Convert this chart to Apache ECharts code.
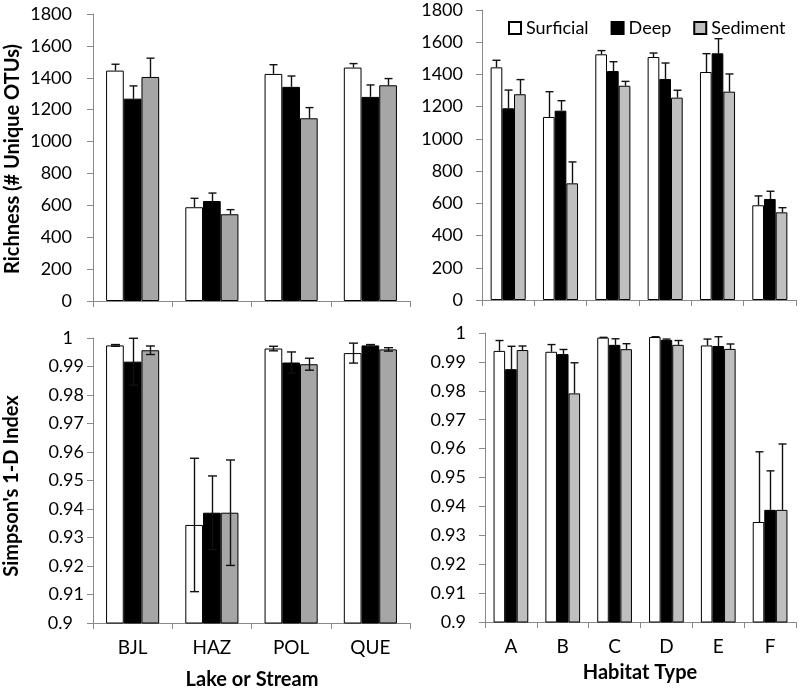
<!DOCTYPE html>
<html><head><meta charset="utf-8">
<script src="https://cdn.jsdelivr.net/npm/echarts@6/dist/echarts.min.js"></script>
<style>html,body{margin:0;padding:0;background:#fff}#c{width:800px;height:690px}</style>
</head><body><div id="c"></div>
<script>
const lakes = ['BJL', 'HAZ', 'POL', 'QUE'];
const habitats = ['A', 'B', 'C', 'D', 'E', 'F'];
const groupNames = ['Surficial', 'Deep', 'Sediment'];

// Richness by lake
const richLakeSurf = [1445, 588, 1424, 1464];
const richLakeSurfErr = [40, 56, 58, 25];
const richLakeDeep = [1269, 627, 1343, 1280];
const richLakeDeepErr = [80, 50, 68, 75];
const richLakeSed = [1405, 544, 1146, 1353];
const richLakeSedErr = [118, 29, 67, 42];

// Richness by habitat
const richHabSurf = [1444, 1136, 1525, 1508, 1415, 588];
const richHabSurfErr = [44, 157, 23, 25, 114, 58];
const richHabDeep = [1190, 1175, 1421, 1372, 1531, 627];
const richHabDeepErr = [113, 62, 58, 99, 91, 48];
const richHabSed = [1277, 724, 1330, 1256, 1293, 544];
const richHabSedErr = [91, 133, 27, 46, 110, 29];

// Simpson by lake (symmetric error)
const simLakeSurf = [0.9974, 0.9344, 0.9963, 0.9947];
const simLakeSurfErr = [0.0003, 0.0234, 0.0008, 0.0035];
const simLakeDeep = [0.9917, 0.9387, 0.9914, 0.9974];
const simLakeDeepErr = [0.0082, 0.0129, 0.0037, 0.0003];
const simLakeSed = [0.9957, 0.9387, 0.9908, 0.9960];
const simLakeSedErr = [0.0015, 0.0185, 0.0021, 0.0006];

// Simpson by habitat
const simHabSurf = [0.9938, 0.9935, 0.9984, 0.9986, 0.9957, 0.9346];
const simHabSurfErr = [0.0036, 0.0025, 0.0001, 0.0001, 0.0022, 0.0243];
const simHabDeep = [0.9875, 0.9927, 0.9959, 0.9976, 0.9955, 0.9388];
const simHabDeepErr = [0.0079, 0.0016, 0.0021, 0.0003, 0.0032, 0.0135];
const simHabSed = [0.9941, 0.9791, 0.9944, 0.9959, 0.9945, 0.9388];
const simHabSedErr = [0.0014, 0.0106, 0.0019, 0.0015, 0.0017, 0.0228];

const richTicks = [0, 1800, 200];
const simTicks = [0.9, 1, 0.01];

const FONT = 'Lato';
const AXIS_COLOR = '#898989';
const GAP = 0.33;
const fillsLeft = ['#ffffff', '#000000', '#a6a6a6'];
const fillsRight = ['#ffffff', '#000000', '#bfbfbf'];

const chart = echarts.init(document.getElementById('c'), null, {renderer: 'canvas'});

function errRender(k, both, cap) {
  return function (params, api) {
    const c = api.value(0), v = api.value(1), e = api.value(2);
    const band = api.size([1, 0])[0];
    const bw = band * (1 - GAP) / 3;
    const x = Math.round(api.coord([c, v])[0] + (k - 1) * bw) + 0.5;
    const yTop = api.coord([c, v + e])[1];
    const yBot = api.coord([c, both ? v - e : v])[1];
    const st = {stroke: '#111', lineWidth: 1.4};
    const ch = [
      {type: 'line', shape: {x1: x, y1: yTop, x2: x, y2: yBot}, style: st},
      {type: 'line', shape: {x1: x - cap, y1: yTop, x2: x + cap, y2: yTop}, style: st}
    ];
    if (both) ch.push({type: 'line', shape: {x1: x - cap, y1: yBot, x2: x + cap, y2: yBot}, style: st});
    return {type: 'group', children: ch};
  };
}

const grids = [
  {left: 93, top: 14, width: 317, height: 287},
  {left: 482, top: 10, width: 314, height: 290},
  {left: 93, top: 338, width: 317, height: 285},
  {left: 485, top: 333, width: 311, height: 289}
];

function xAx(idx, cats, showLabel) {
  return {
    type: 'category', gridIndex: idx, data: cats,
    axisLine: {show: true, lineStyle: {color: AXIS_COLOR, width: 1}},
    axisTick: {show: true, length: 6, lineStyle: {color: AXIS_COLOR}},
    axisLabel: {show: showLabel, color: '#000', fontFamily: FONT, fontSize: 19, margin: 15}
  };
}
function yAx(idx, t, fmt, margin, rich) {
  return {
    type: 'value', gridIndex: idx, min: t[0], max: t[1], interval: t[2],
    axisLine: {show: true, lineStyle: {color: AXIS_COLOR, width: 1}},
    axisTick: {show: true, length: 6, lineStyle: {color: AXIS_COLOR}},
    splitLine: {show: false},
    axisLabel: {color: '#000', fontFamily: FONT, fontSize: 18, margin: margin, formatter: fmt, rich: rich}
  };
}

const panels = [
  // right panels first so the legend takes its colours from them
  {grid: 1, cats: habitats, vals: [richHabSurf, richHabDeep, richHabSed], errs: [richHabSurfErr, richHabDeepErr, richHabSedErr], both: false, fills: fillsRight, cap: 4},
  {grid: 3, cats: habitats, vals: [simHabSurf, simHabDeep, simHabSed], errs: [simHabSurfErr, simHabDeepErr, simHabSedErr], both: false, fills: fillsRight, cap: 4},
  {grid: 0, cats: lakes, vals: [richLakeSurf, richLakeDeep, richLakeSed], errs: [richLakeSurfErr, richLakeDeepErr, richLakeSedErr], both: false, fills: fillsLeft, cap: 4},
  {grid: 2, cats: lakes, vals: [simLakeSurf, simLakeDeep, simLakeSed], errs: [simLakeSurfErr, simLakeDeepErr, simLakeSedErr], both: true, fills: fillsLeft, cap: 4.5}
];

const series = [];
panels.forEach(p => {
  for (let k = 0; k < 3; k++) {
    series.push({
      type: 'bar', name: groupNames[k], xAxisIndex: p.grid, yAxisIndex: p.grid,
      data: p.vals[k], barCategoryGap: '33%', barGap: '0%',
      itemStyle: {color: p.fills[k], borderColor: '#000', borderWidth: 1},
      emphasis: {disabled: true}, animation: false
    });
  }
  for (let k = 0; k < 3; k++) {
    series.push({
      type: 'custom', name: groupNames[k] + ' error', xAxisIndex: p.grid, yAxisIndex: p.grid,
      data: p.cats.map((c, i) => [i, p.vals[k][i], p.errs[k][i]]),
      encode: {x: 0, y: 1}, renderItem: errRender(k, p.both, p.cap), z: 10, animation: false, silent: true
    });
  }
});

const richFmt = v => String(v);
const simFmt = v => String(Math.round(v * 100) / 100);
const simFmtPad = v => {
  const s = String(Math.round(v * 100) / 100);
  return s.length >= 4 ? s : s + '{p| }';
};

const titleFont = 'bold 20px Lato';

chart.setOption({
  animation: false,
  grid: grids,
  xAxis: [xAx(0, lakes, false), xAx(1, habitats, false), xAx(2, lakes, true), xAx(3, habitats, true)],
  yAxis: [
    yAx(0, richTicks, richFmt, 21),
    yAx(1, richTicks, richFmt, 19),
    yAx(2, simTicks, simFmtPad, 9, {p: {width: 11, fontSize: 18}}),
    yAx(3, simTicks, simFmt, 19)
  ],
  legend: {
    data: groupNames, left: 503, top: 14, itemWidth: 12, itemHeight: 12, itemGap: 22, icon: 'rect',
    textStyle: {fontFamily: FONT, fontSize: 18, color: '#000'}, selectedMode: false
  },
  series: series,
  graphic: [
    {type: 'text', x: 13, y: 159, rotation: Math.PI / 2,
      style: {text: 'Richness (# Unique OTUs)', font: titleFont, fill: '#000', align: 'center', verticalAlign: 'middle', textAlign: 'center', textVerticalAlign: 'middle'}},
    {type: 'text', x: 12, y: 486, rotation: Math.PI / 2,
      style: {text: "Simpson's 1-D Index", font: titleFont, fill: '#000', align: 'center', verticalAlign: 'middle', textAlign: 'center', textVerticalAlign: 'middle'}},
    {type: 'text', x: 252, y: 680,
      style: {text: 'Lake or Stream', font: titleFont, fill: '#000', align: 'center', verticalAlign: 'middle', textAlign: 'center', textVerticalAlign: 'middle'}},
    {type: 'text', x: 640, y: 673,
      style: {text: 'Habitat Type', font: titleFont, fill: '#000', align: 'center', verticalAlign: 'middle', textAlign: 'center', textVerticalAlign: 'middle'}}
  ]
});
</script></body></html>
